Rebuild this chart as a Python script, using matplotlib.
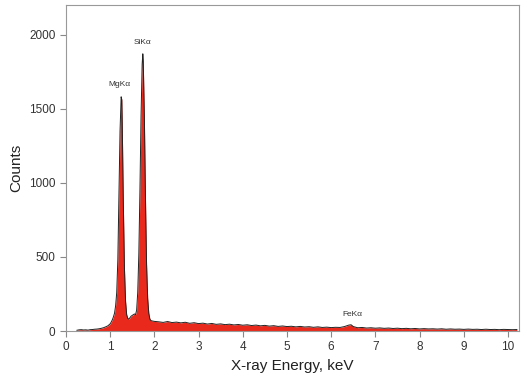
import matplotlib
matplotlib.use('Agg')
import matplotlib.pyplot as plt
import numpy as np

plt.rcParams['font.family'] = ['Liberation Sans', 'DejaVu Sans']

# EDS spectrum
energy = [0.25, 0.30, 0.35, 0.40, 0.45, 0.50, 0.55, 0.60, 0.65, 0.70, 0.75, 0.80,
          0.85, 0.90, 0.95, 1.00,
          1.025, 1.05, 1.075, 1.10, 1.125, 1.15, 1.175, 1.20, 1.225, 1.25, 1.265,
          1.275, 1.30, 1.325, 1.35, 1.375, 1.40, 1.425, 1.45, 1.475, 1.50, 1.525,
          1.55, 1.575, 1.60, 1.625, 1.65, 1.675, 1.70, 1.725, 1.74, 1.75, 1.775,
          1.80, 1.825, 1.85, 1.875, 1.90, 1.925, 1.95, 2.0,
          2.1, 2.2, 2.3, 2.4, 2.5, 2.6, 2.7, 2.8, 2.9, 3.0, 3.1, 3.2, 3.3, 3.4,
          3.5, 3.6, 3.7, 3.8, 3.9, 4.0, 4.1, 4.2, 4.3, 4.4, 4.5, 4.6, 4.7, 4.8,
          4.9, 5.0, 5.1, 5.2, 5.3, 5.4, 5.5, 5.6, 5.7, 5.8, 5.9, 6.0, 6.1, 6.2,
          6.3, 6.4, 6.45, 6.5, 6.6, 6.7, 6.8, 6.9, 7.0, 7.1, 7.2, 7.3, 7.4, 7.5,
          7.6, 7.7, 7.8, 7.9, 8.0, 8.1, 8.2, 8.3, 8.4, 8.5, 8.6, 8.7, 8.8, 8.9,
          9.0, 9.1, 9.2, 9.3, 9.4, 9.5, 9.6, 9.7, 9.8, 9.9, 10.0, 10.1, 10.2]
counts = [5, 8, 9, 7, 8, 6, 9, 10, 12, 13, 15, 18,
          22, 28, 35, 48,
          60, 75, 95, 120, 170, 260, 480, 900, 1350, 1580, 1560,
          1400, 850, 420, 200, 110, 85, 80, 90, 100, 105, 110,
          115, 110, 140, 260, 520, 950, 1450, 1800, 1870, 1820, 1450,
          900, 450, 220, 120, 80, 70, 68, 65,
          62, 58, 64, 57, 60, 55, 59, 52, 56, 50, 53, 47, 51, 45,
          48, 43, 46, 41, 44, 39, 42, 37, 40, 35, 38, 33, 36, 31,
          34, 30, 32, 28, 31, 27, 29, 25, 28, 24, 26, 23, 25, 24,
          30, 40, 42, 30, 22, 24, 20, 22, 19, 21, 18, 20, 17, 19,
          16, 18, 15, 17, 14, 16, 14, 15, 13, 15, 12, 14, 12, 13,
          11, 13, 11, 12, 10, 12, 10, 11, 9, 11, 10, 9, 10]

peak_labels = ['MgKα', 'SiKα', 'FeKα']
peak_x = [1.22, 1.74, 6.47]
peak_y = [1640, 1925, 90]

fig = plt.figure(figsize=(5.27, 3.77), dpi=100)
ax = fig.add_axes([0.125, 0.122, 0.86, 0.865])

ax.fill_between(energy, 0, counts, color='#e8291c', linewidth=0)
ax.plot(energy, counts, color='#222222', linewidth=0.7)

for lab, x, y in zip(peak_labels, peak_x, peak_y):
    ax.text(x, y, lab, fontsize=6, ha='center', va='bottom', color='#333333')

ax.set_xlim(0, 10.25)
ax.set_ylim(0, 2200)
ax.set_xticks(np.arange(0, 11, 1))
ax.set_yticks([0, 500, 1000, 1500, 2000])
ax.tick_params(direction='out', length=4, width=0.8, color='#888888',
               labelsize=8.5, labelcolor='#333333')
for s in ax.spines.values():
    s.set_color('#999999')
    s.set_linewidth(0.8)

ax.set_xlabel('X-ray Energy, keV', fontsize=11, color='#222222')
ax.set_ylabel('Counts', fontsize=11, color='#222222')

fig.savefig('out.png', dpi=100)
